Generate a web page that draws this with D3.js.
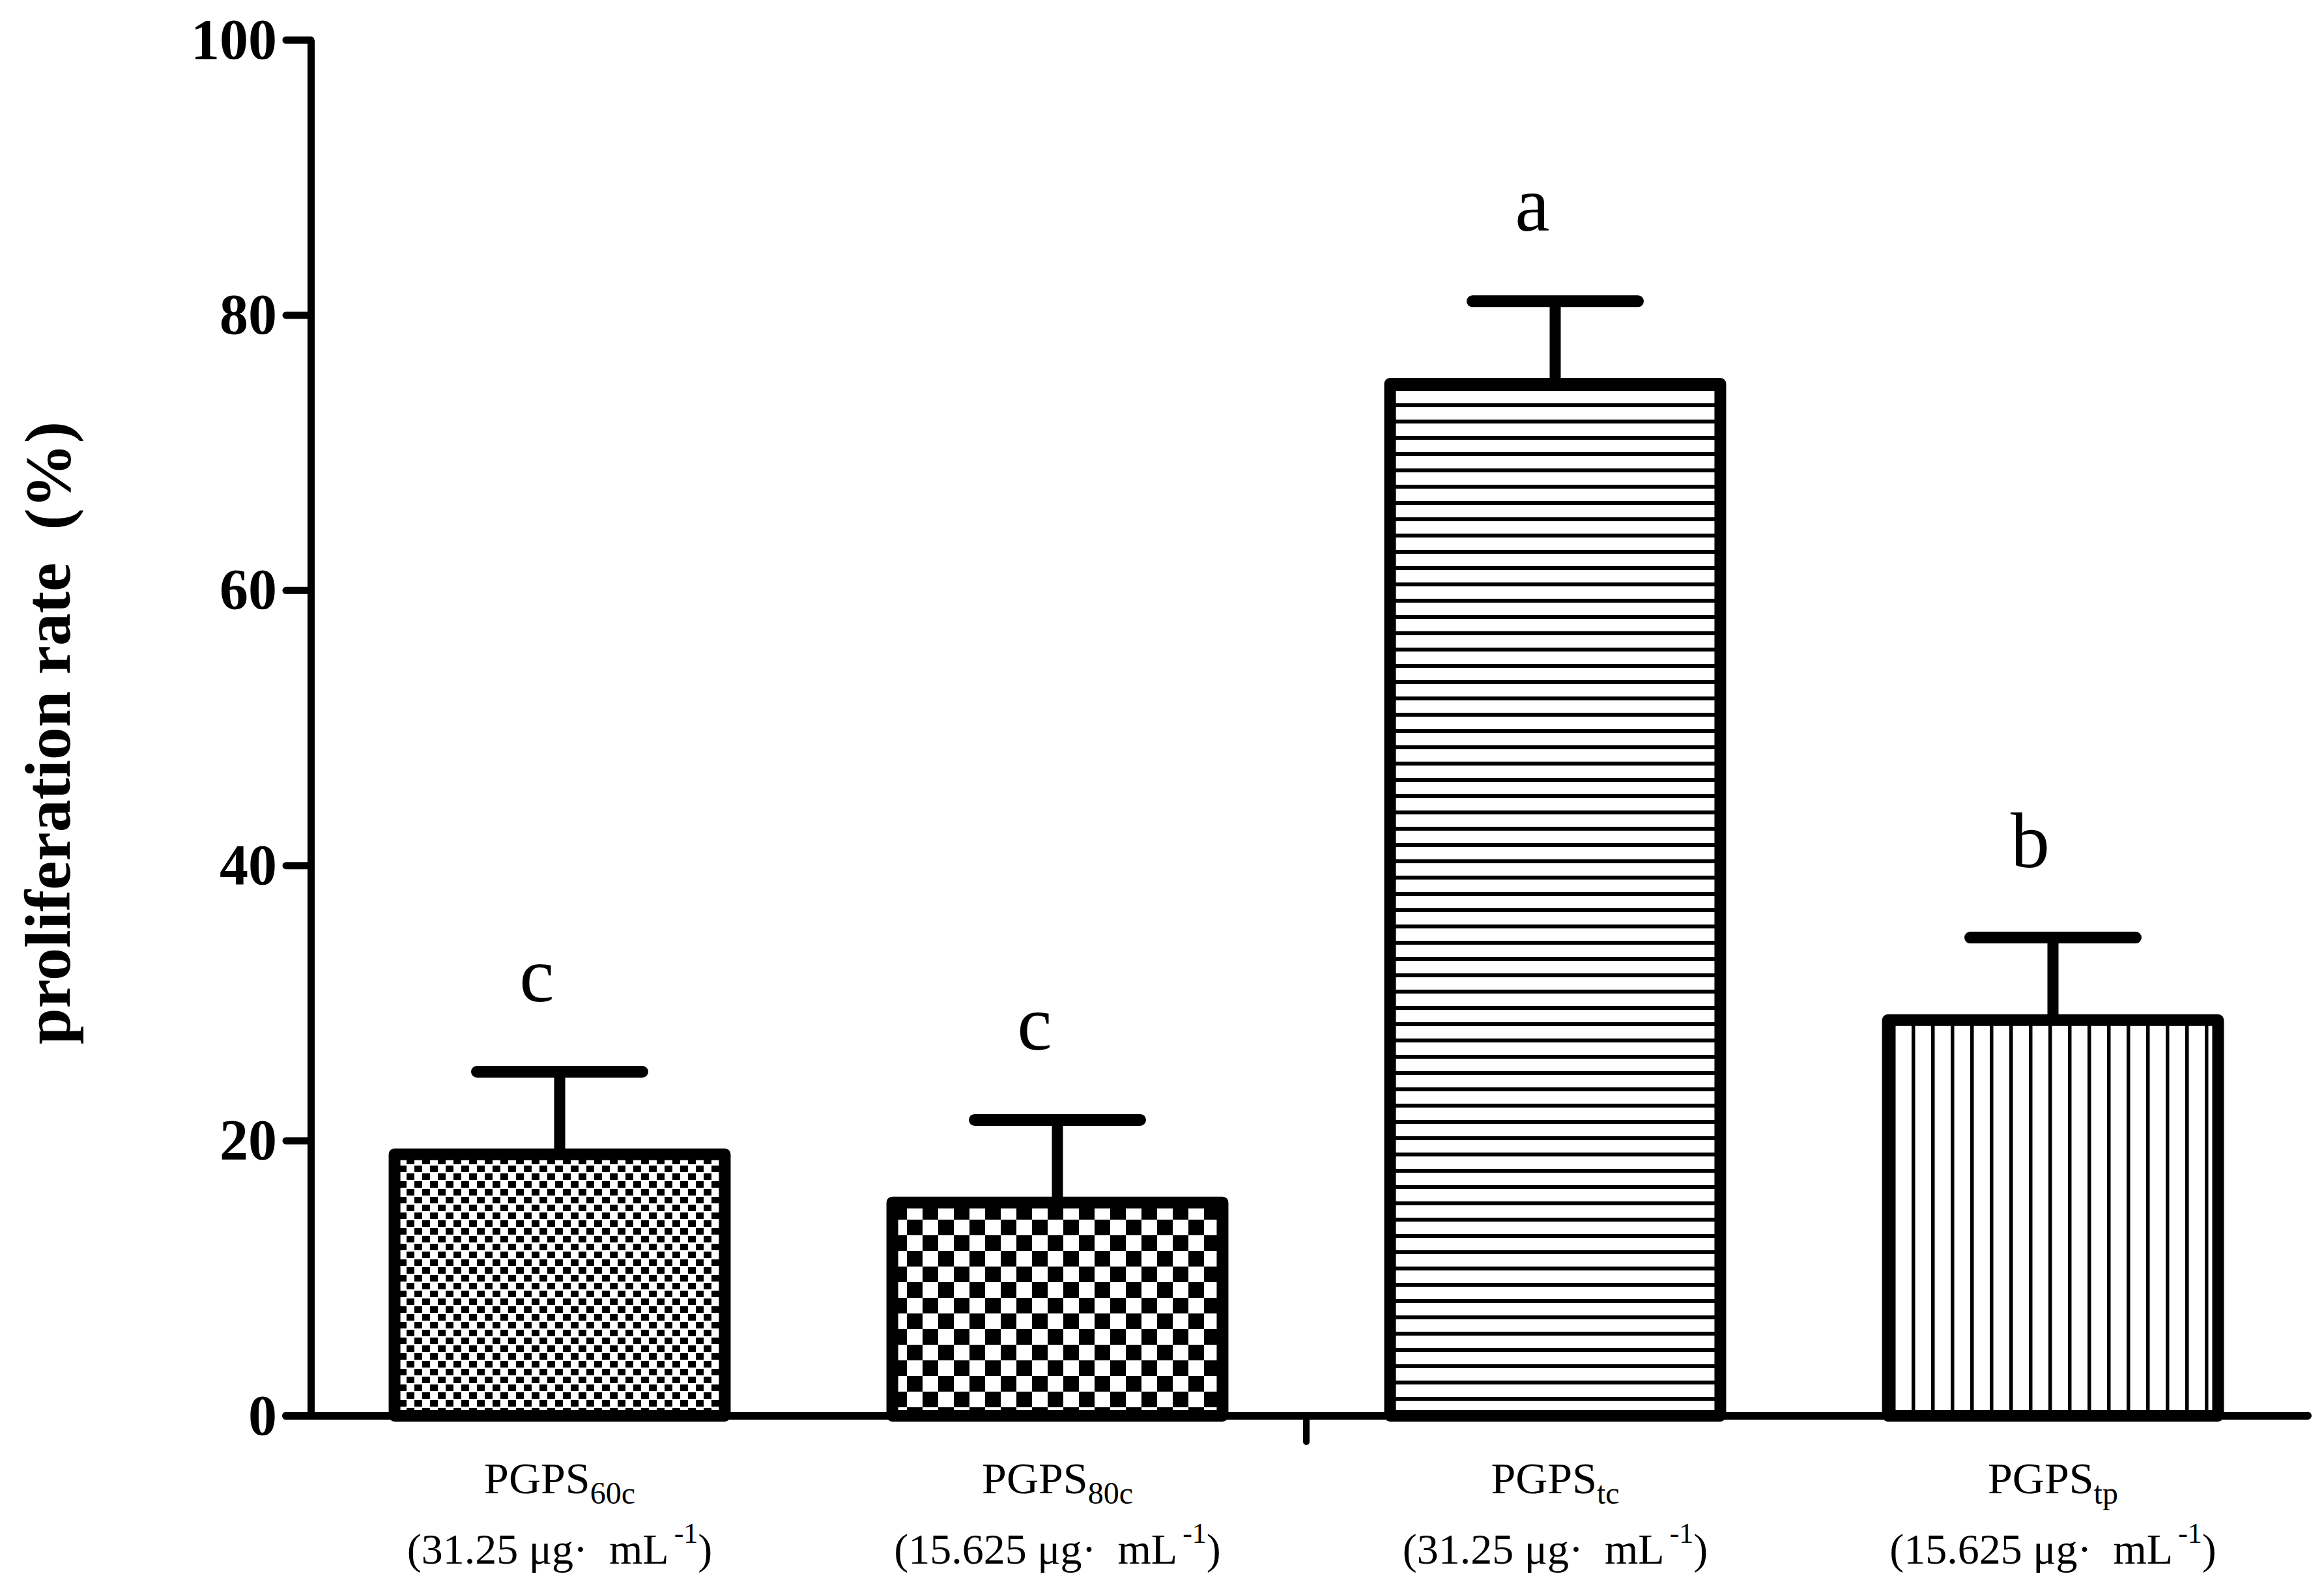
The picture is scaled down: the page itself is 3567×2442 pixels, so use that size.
<!DOCTYPE html>
<html>
<head>
<meta charset="utf-8">
<script src="https://cdn.jsdelivr.net/npm/d3@7"></script>
<style>
  body { margin: 0; background: #fff; }
  svg { display: block; }
  text { font-family: "Liberation Serif", "Times New Roman", serif; fill: #000; }
</style>
</head>
<body>
<div id="chart"></div>
<script>
// data
const groups = ["PGPS60c", "PGPS80c", "PGPStc", "PGPStp"];
const groupSubs = ["60c", "80c", "tc", "tp"];
const doses = ["31.25", "15.625", "31.25", "15.625"];
const means = [19.0, 15.5, 75.0, 28.75];
const sds = [6.0, 6.0, 6.0, 6.0];
const letters = ["c", "c", "a", "b"];
const patterns = ["checkFine", "checkCoarse", "hLines", "vLines"];
const yTicks = [0, 20, 40, 60, 80, 100];

const width = 3567, height = 2442;
const margin = { top: 61, right: 34, bottom: 269, left: 477 };

const svg = d3.select("#chart")
    .append("svg")
    .attr("width", width)
    .attr("height", height);

// fill patterns
const defs = svg.append("defs");

const fine = defs.append("pattern")
    .attr("id", "checkFine").attr("patternUnits", "userSpaceOnUse")
    .attr("width", 24).attr("height", 24);
fine.append("rect").attr("width", 24).attr("height", 24).attr("fill", "#fff");
fine.append("rect").attr("x", 0).attr("y", 1).attr("width", 12).attr("height", 10).attr("fill", "#000");
fine.append("rect").attr("x", 12).attr("y", 13).attr("width", 12).attr("height", 10).attr("fill", "#000");

const coarse = defs.append("pattern")
    .attr("id", "checkCoarse").attr("patternUnits", "userSpaceOnUse")
    .attr("width", 48).attr("height", 48);
coarse.append("rect").attr("width", 48).attr("height", 48).attr("fill", "#fff");
coarse.append("rect").attr("x", 0).attr("y", 0).attr("width", 24).attr("height", 24).attr("fill", "#000");
coarse.append("rect").attr("x", 24).attr("y", 24).attr("width", 24).attr("height", 24).attr("fill", "#000");

const hl = defs.append("pattern")
    .attr("id", "hLines").attr("patternUnits", "userSpaceOnUse")
    .attr("width", 25).attr("height", 25);
hl.append("rect").attr("width", 25).attr("height", 25).attr("fill", "#fff");
hl.append("rect").attr("x", 0).attr("y", 19).attr("width", 25).attr("height", 6).attr("fill", "#000");

const vl = defs.append("pattern")
    .attr("id", "vLines").attr("patternUnits", "userSpaceOnUse")
    .attr("width", 30).attr("height", 30);
vl.append("rect").attr("width", 30).attr("height", 30).attr("fill", "#fff");
vl.append("rect").attr("x", 24).attr("y", 0).attr("width", 5.5).attr("height", 30).attr("fill", "#000");

// scales
const x = d3.scaleBand()
    .domain(groups)
    .range([margin.left, width - margin.right])
    .paddingInner(0.313)
    .paddingOuter(0.1565);

const y = d3.scaleLinear()
    .domain([0, 100])
    .range([height - margin.bottom, margin.top]);

const barStroke = 18;

// bars
svg.append("g")
    .selectAll("rect")
    .data(groups)
    .join("rect")
    .attr("x", d => x(d) + barStroke / 2)
    .attr("width", x.bandwidth() - barStroke)
    .attr("y", (d, i) => y(means[i]))
    .attr("height", (d, i) => y(0) - y(means[i]))
    .attr("fill", (d, i) => `url(#${patterns[i]})`)
    .attr("stroke", "#000")
    .attr("stroke-width", barStroke)
    .attr("stroke-linejoin", "round");

// error bars (upper only)
const err = svg.append("g");
groups.forEach((g, i) => {
    const cx = x(g) + x.bandwidth() / 2;
    err.append("line")
        .attr("x1", cx).attr("x2", cx)
        .attr("y1", y(means[i])).attr("y2", y(means[i] + sds[i]))
        .attr("stroke", "#000").attr("stroke-width", 17);
    err.append("line")
        .attr("x1", cx - 127).attr("x2", cx + 127)
        .attr("y1", y(means[i] + sds[i])).attr("y2", y(means[i] + sds[i]))
        .attr("stroke", "#000").attr("stroke-width", 18)
        .attr("stroke-linecap", "round");
    // significance letter
    svg.append("text")
        .attr("x", cx - 35)
        .attr("y", y(means[i] + sds[i]) - 108)
        .attr("text-anchor", "middle")
        .attr("font-size", 120)
        .text(letters[i]);
});

// y axis
const yAxis = svg.append("g")
    .attr("transform", `translate(${margin.left},0)`)
    .call(d3.axisLeft(y).tickValues(yTicks).tickSize(38).tickSizeOuter(0).tickPadding(14));
yAxis.select(".domain").attr("stroke", "#000").attr("stroke-width", 11);
yAxis.selectAll(".tick line")
    .attr("stroke", "#000").attr("stroke-width", 11).attr("stroke-linecap", "round");
yAxis.selectAll(".tick text")
    .attr("font-family", "Liberation Serif, Times New Roman, serif")
    .attr("font-size", 88)
    .attr("font-weight", "bold");

// x axis baseline
const x0 = margin.left - 38, x1 = width - 25;
svg.append("line")
    .attr("x1", x0).attr("x2", x1)
    .attr("y1", y(0)).attr("y2", y(0))
    .attr("stroke", "#000").attr("stroke-width", 12)
    .attr("stroke-linecap", "round");

// centre tick between the two pairs
const mid = x(groups[2]) - x.step() * x.paddingInner() / 2;
svg.append("line")
    .attr("x1", mid).attr("x2", mid)
    .attr("y1", y(0)).attr("y2", y(0) + 40)
    .attr("stroke", "#000").attr("stroke-width", 10)
    .attr("stroke-linecap", "round");

// category labels
groups.forEach((g, i) => {
    const cx = x(g) + x.bandwidth() / 2;
    const t1 = svg.append("text")
        .attr("x", cx).attr("y", 2292)
        .attr("text-anchor", "middle")
        .attr("font-size", 68);
    t1.append("tspan").text("PGPS");
    t1.append("tspan").attr("font-size", 48).attr("dy", 16).text(groupSubs[i]);

    const t2 = svg.append("text")
        .attr("x", cx).attr("y", 2400)
        .attr("text-anchor", "middle")
        .attr("font-size", 66)
        .attr("xml:space", "preserve")
        .style("white-space", "pre");
    t2.append("tspan").text(`(${doses[i]} μg·  mL`);
    t2.append("tspan").attr("font-size", 44).attr("dx", 8).attr("dy", -32).text("-1");
    t2.append("tspan").attr("dy", 32).text(")");
});

// y axis title
svg.append("text")
    .attr("transform", `translate(107,${(y(0) + y(100)) / 2 + 8}) rotate(-90)`)
    .attr("text-anchor", "middle")
    .attr("font-size", 100)
    .attr("font-weight", "bold")
    .style("white-space", "pre")
    .text("proliferation rate  (%)");
</script>
</body>
</html>
